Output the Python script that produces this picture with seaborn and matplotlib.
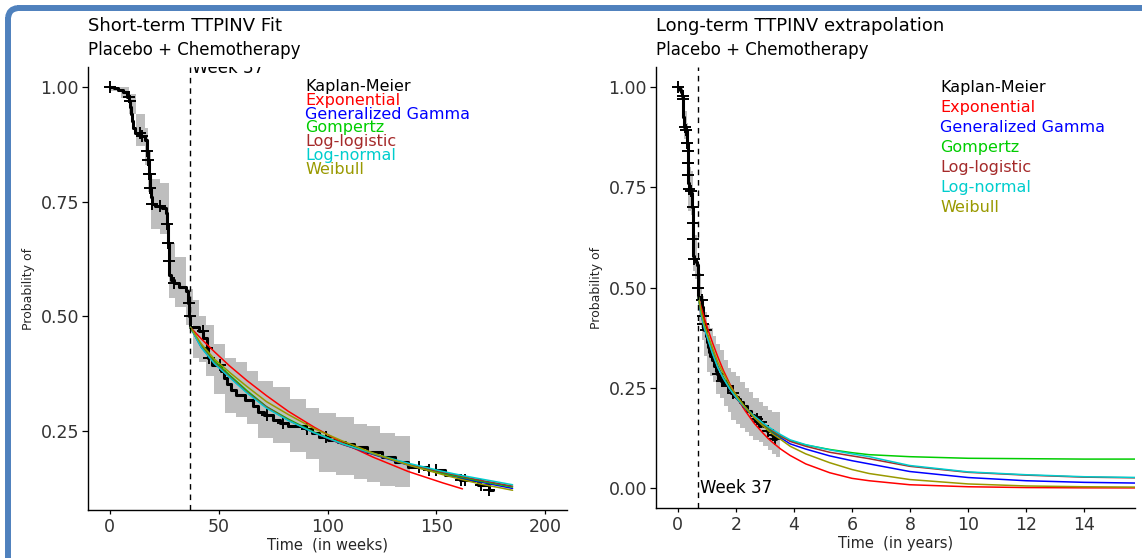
import numpy as np
import pandas as pd
import matplotlib
matplotlib.use("Agg")
import matplotlib.pyplot as plt
import seaborn as sns
from matplotlib.lines import Line2D
from matplotlib.patches import Arc

# ---------------- data ----------------
WEEKS_PER_YEAR = 52.18

# Kaplan-Meier estimate (time in weeks)
km_weeks = [0, 2, 4, 6, 8, 9, 9.3, 9.6, 10, 10.5, 11.5, 14, 16, 17.2, 17.6, 18, 18.4,
            18.8, 19.3, 21, 24, 25.7, 26.4, 26.7, 27, 27.4, 28, 29.5, 32, 35, 36, 36.5,
            37, 41, 43, 44.5, 45, 47, 51, 52.5, 54, 55.5, 58, 62, 66, 68, 71, 75, 78,
            82, 90, 93, 96, 100, 105, 108, 112, 118, 125, 131, 137, 146, 154, 161,
            169, 174, 176]
km_surv = [1.0, 0.997, 0.993, 0.988, 0.978, 0.97, 0.955, 0.94, 0.925, 0.91, 0.90, 0.893,
           0.885, 0.86, 0.84, 0.81, 0.78, 0.76, 0.745, 0.741, 0.735, 0.726, 0.70, 0.66,
           0.62, 0.59, 0.578, 0.572, 0.563, 0.556, 0.53, 0.50, 0.476, 0.468, 0.452,
           0.430, 0.409, 0.393, 0.380, 0.365, 0.352, 0.339, 0.328, 0.318, 0.305, 0.291,
           0.285, 0.275, 0.267, 0.262, 0.255, 0.245, 0.237, 0.230, 0.226, 0.222, 0.215,
           0.204, 0.193, 0.182, 0.172, 0.165, 0.154, 0.143, 0.133, 0.122, 0.122]
censor_weeks = [0, 8.7, 9.2, 13.8, 15, 17.3, 17.7, 18.1, 18.3, 18.7, 19.3, 23, 26.5,
                26.8, 27.2, 29.7, 36.2, 36.8, 42.7, 44.6, 45.5, 50.7, 72, 79.4, 90.4,
                99.5, 142, 146.8, 150, 161.5, 163, 170.6, 174.3]

# 95% confidence band, short-term view (weeks)
ci_weeks = [0, 5, 9, 12, 16, 17.5, 19, 23, 27, 30, 35, 38, 41, 44, 48, 53, 58, 63, 68,
            75, 83, 90, 96, 104, 112, 118, 124, 131, 138]
ci_low = [0.99, 0.975, 0.94, 0.87, 0.83, 0.77, 0.69, 0.68, 0.54, 0.52, 0.48, 0.41,
          0.40, 0.37, 0.33, 0.29, 0.28, 0.265, 0.235, 0.225, 0.205, 0.19, 0.16, 0.155,
          0.145, 0.14, 0.13, 0.128, 0.128]
ci_high = [1.0, 1.0, 0.985, 0.94, 0.91, 0.86, 0.80, 0.79, 0.66, 0.63, 0.56, 0.535,
           0.50, 0.48, 0.44, 0.41, 0.40, 0.38, 0.36, 0.345, 0.32, 0.30, 0.29, 0.28,
           0.265, 0.26, 0.245, 0.24, 0.24]

# 95% confidence band, long-term view (years)
ci_years = [0, 0.1, 0.17, 0.23, 0.31, 0.34, 0.36, 0.44, 0.52, 0.58, 0.67, 0.73, 0.79,
            0.84, 0.92, 1.02, 1.11, 1.21, 1.3, 1.44, 1.59, 1.72, 1.84, 1.99, 2.15, 2.3,
            2.45, 2.6, 2.8, 2.95, 3.1, 3.25, 3.4, 3.53]
ci_low_lt = [0.99, 0.975, 0.94, 0.87, 0.83, 0.77, 0.69, 0.68, 0.54, 0.52, 0.48, 0.41,
             0.40, 0.37, 0.33, 0.29, 0.28, 0.265, 0.235, 0.225, 0.205, 0.19, 0.17, 0.16,
             0.15, 0.14, 0.13, 0.12, 0.115, 0.105, 0.095, 0.085, 0.077, 0.077]
ci_high_lt = [1.0, 1.0, 0.985, 0.94, 0.91, 0.86, 0.80, 0.79, 0.66, 0.63, 0.56, 0.535,
              0.50, 0.48, 0.44, 0.41, 0.40, 0.38, 0.36, 0.345, 0.32, 0.30, 0.29, 0.28,
              0.265, 0.25, 0.24, 0.225, 0.215, 0.205, 0.195, 0.19, 0.19, 0.19]

# Parametric fits conditional on survival to week 37
fit_weeks = [37, 42, 48, 55, 63, 72, 82, 94, 107, 121, 137, 153, 162, 170, 185, 202,
             230, 273, 313, 344, 417, 522, 626, 730, 835]
exponential = [.476, .451, .423, .392, .360, .327, .293, .258, .224, .193, .162, .137,
               .124, .114, .097, .081, .060, .038, .024, .018, .008, .003, .001, .0003, .0001]
gen_gamma = [.476, .433, .398, .368, .335, .302, .274, .246, .221, .199, .176, .157,
             .147, .139, .125, .110, .097, .080, .068, .060, .041, .026, .018, .014, .012]
gompertz = [.476, .437, .403, .372, .338, .303, .276, .247, .222, .200, .177, .158,
            .149, .141, .128, .118, .107, .096, .088, .083, .078, .074, .073, .072, .072]
log_logistic = [.476, .434, .399, .369, .335, .302, .274, .246, .221, .200, .178, .160,
                .151, .143, .130, .116, .104, .089, .080, .073, .054, .039, .032, .027, .025]
log_normal = [.476, .432, .397, .367, .333, .300, .273, .246, .222, .201, .180, .162,
              .153, .146, .133, .120, .108, .095, .085, .078, .056, .040, .033, .028, .026]
weibull = [.476, .440, .407, .378, .347, .314, .286, .255, .228, .202, .176, .155,
           .144, .135, .121, .104, .085, .063, .046, .036, .021, .010, .005, .003, .002]

short_term_max_week = 185
exponential_short_max_week = 162
landmark_week = 37

model_names = ["Exponential", "Generalized Gamma", "Gompertz", "Log-logistic",
               "Log-normal", "Weibull"]
model_colors = ["#FF0000", "#0000FF", "#00CD00", "#A52A2A", "#00CDCD", "#999900"]
legend_labels = ["Kaplan-Meier"] + model_names
legend_colors = ["#000000"] + model_colors

# ---------------- tidy tables ----------------
fits = pd.concat([
    pd.DataFrame({"week": fit_weeks, "surv": vals, "model": name})
    for name, vals in zip(model_names,
                          [exponential, gen_gamma, gompertz, log_logistic, log_normal, weibull])
], ignore_index=True)
fits["year"] = fits["week"] / WEEKS_PER_YEAR

short_fits = fits[(fits["week"] <= short_term_max_week) &
                  ~((fits["model"] == "Exponential") & (fits["week"] > exponential_short_max_week))]

km = pd.DataFrame({"week": km_weeks, "surv": km_surv})
km["year"] = km["week"] / WEEKS_PER_YEAR
idx = np.searchsorted(km_weeks, censor_weeks, side="right") - 1
cens = pd.DataFrame({"week": censor_weeks, "surv": np.array(km_surv)[idx]})
cens["year"] = cens["week"] / WEEKS_PER_YEAR

palette = dict(zip(model_names, model_colors))

# ---------------- figure ----------------
sns.set_style("ticks")
plt.rcParams["font.family"] = ["DejaVu Sans"]

W, H = 1142, 558
fig = plt.figure(figsize=(W / 100, H / 100), dpi=100)
fig.patch.set_facecolor("white")


def px_rect(l, t, r, b):
    return [l / W, 1 - b / H, (r - l) / W, (b - t) / H]


ax1 = fig.add_axes(px_rect(88, 67, 567, 510))
ax2 = fig.add_axes(px_rect(656, 67, 1135, 508))


def draw_panel(ax, tcol, band_t, band_lo, band_hi, fit_df, landmark):
    ax.fill_between(band_t, band_lo, band_hi, step="post", color="#BEBEBE", lw=0, zorder=1)
    sns.lineplot(data=km, x=tcol, y="surv", color="black", lw=2.2,
                 drawstyle="steps-post", estimator=None, sort=False, ax=ax, zorder=3)
    ax.plot(cens[tcol], cens["surv"], linestyle="none", marker="+", ms=8, mew=1.4,
            color="black", zorder=3)
    sns.lineplot(data=fit_df, x=tcol, y="surv", hue="model", palette=palette,
                 hue_order=model_names, estimator=None, sort=False, lw=1.1,
                 legend=False, ax=ax, zorder=4)
    ax.axvline(landmark, color="black", lw=1.0, ls=(0, (4, 3.5)), zorder=5)
    sns.despine(ax=ax)
    for s in ("left", "bottom"):
        ax.spines[s].set_color("black")
        ax.spines[s].set_linewidth(1.0)
    ax.tick_params(axis="both", colors="black", width=0.9, labelsize=12.5,
                   labelcolor="#333333")
    ax.tick_params(axis="y", length=4.0, pad=2.5)
    ax.tick_params(axis="x", length=3.0, pad=3)
    ax.set_ylabel("Probability of", fontsize=9, labelpad=4)
    ax.grid(False)
    ax.set_facecolor("white")


# Short-term panel (weeks)
draw_panel(ax1, "week", ci_weeks, ci_low, ci_high, short_fits, landmark_week)
ax1.set_xlim(-10, 210)
ax1.set_ylim(0.078, 1.043)
ax1.set_xticks([0, 50, 100, 150, 200])
ax1.set_yticks([0.25, 0.50, 0.75, 1.00])
ax1.set_yticklabels(["0.25", "0.50", "0.75", "1.00"])
ax1.set_xlabel("Time  (in weeks)", fontsize=10.5, labelpad=1)
wk1 = ax1.text(landmark_week + 0.8, 1.031, "Week 37", fontsize=12, color="black",
               ha="left", va="baseline")
wk1.set_clip_box(ax1.bbox)
wk1.set_clip_on(True)

# Long-term panel (years)
draw_panel(ax2, "year", ci_years, ci_low_lt, ci_high_lt, fits,
           landmark_week / WEEKS_PER_YEAR)
ax2.set_xlim(-0.75, 15.75)
ax2.set_ylim(-0.05, 1.05)
ax2.set_xticks([0, 2, 4, 6, 8, 10, 12, 14])
ax2.set_yticks([0.0, 0.25, 0.50, 0.75, 1.00])
ax2.set_yticklabels(["0.00", "0.25", "0.50", "0.75", "1.00"])
ax2.set_xlabel("Time  (in years)", fontsize=10.5, labelpad=1)
ax2.text(landmark_week / WEEKS_PER_YEAR + 0.05, 0.0, "Week 37", fontsize=12,
         color="black", ha="left", va="center")

# Model key as coloured text
for i, (lab, col) in enumerate(zip(legend_labels, legend_colors)):
    ax1.text(0.453, 0.956 - i * 0.0312, lab, color=col, fontsize=11.5,
             transform=ax1.transAxes, ha="left", va="center")
    ax2.text(0.593, 0.9535 - i * 0.04535, lab, color=col, fontsize=11.5,
             transform=ax2.transAxes, ha="left", va="center")

# Titles
for x0, title in [(88, "Short-term TTPINV Fit"), (656, "Long-term TTPINV extrapolation")]:
    fig.text(x0 / W, 1 - 26 / H, title, fontsize=13, ha="left", va="center", color="black")
    fig.text(x0 / W, 1 - 50 / H, "Placebo + Chemotherapy", fontsize=12, ha="left",
             va="center", color="black")

# Frame: left and top edges joined by a rounded corner (figure fractions)
edge_x, edge_y = 8.3 / W, 1 - 8.3 / H
rx, ry = 9.0 / W, 9.0 / H
frame_kw = dict(color="#4F81BD", lw=4.3, solid_capstyle="butt", transform=fig.transFigure)
fig.add_artist(Line2D([edge_x, edge_x], [0, edge_y - ry], **frame_kw))
fig.add_artist(Line2D([edge_x + rx, 1.0], [edge_y, edge_y], **frame_kw))
fig.add_artist(Arc((edge_x + rx, edge_y - ry), 2 * rx, 2 * ry, theta1=90, theta2=180,
                   color="#4F81BD", lw=4.3, transform=fig.transFigure))

fig.savefig("out.png", dpi=100, facecolor="white")
